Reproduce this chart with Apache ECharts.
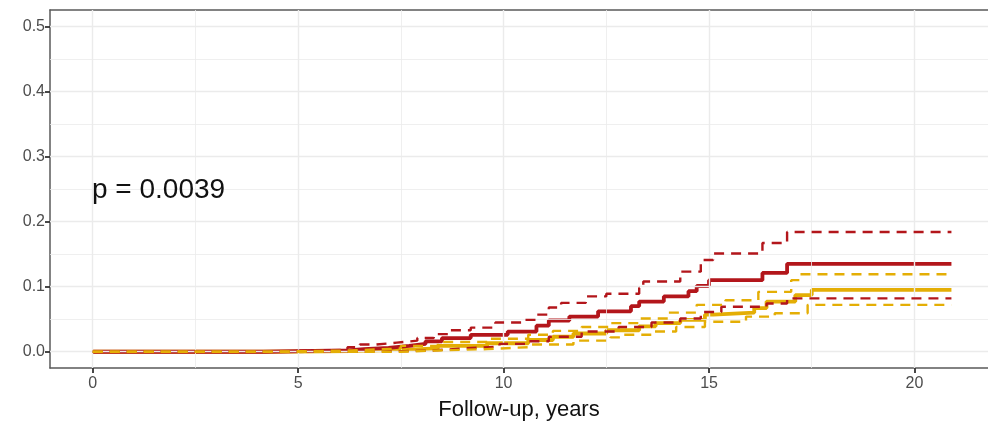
<!DOCTYPE html>
<html>
<head>
<meta charset="utf-8">
<style>
  html, body { margin: 0; padding: 0; background: #ffffff; }
  #chart { width: 988px; height: 428px; }
</style>
<script src="https://cdn.jsdelivr.net/npm/echarts@6/dist/echarts.min.js"></script>
</head>
<body>
<div id="chart"></div>
<script>
// Cumulative incidence by follow-up year: [year, value] step points (step-after)
const redEstimate = [[0,0],[4.15,0.002],[6.2,0.004],[6.6,0.006],[7.2,0.009],[7.7,0.012],[8.1,0.016],[8.5,0.021],[9.2,0.026],[10.1,0.031],[10.8,0.040],[11.1,0.048],[11.6,0.054],[12.3,0.062],[13.1,0.070],[13.3,0.077],[13.9,0.085],[14.5,0.093],[14.7,0.101],[15.0,0.110],[16.3,0.121],[16.9,0.135],[20.9,0.135]];
const redUpper = [[0,0],[4.15,0.003],[6.2,0.007],[6.5,0.011],[6.9,0.014],[7.4,0.017],[7.9,0.021],[8.3,0.027],[8.7,0.033],[9.2,0.037],[9.8,0.045],[10.5,0.049],[10.8,0.057],[11.1,0.068],[11.4,0.075],[12.0,0.085],[12.5,0.089],[13.3,0.098],[13.4,0.108],[14.3,0.123],[14.8,0.141],[15.1,0.151],[16.3,0.167],[16.9,0.184],[20.9,0.184]];
const redLower = [[0,0],[6.2,0.001],[7.6,0.002],[8.3,0.005],[9.0,0.008],[9.9,0.012],[10.6,0.016],[11.1,0.023],[11.9,0.031],[12.8,0.038],[13.6,0.045],[14.3,0.051],[14.8,0.061],[15.3,0.069],[16.4,0.074],[16.9,0.082],[20.9,0.082]];
const yellowEstimate = [[0,0],[4.2,0.001],[6.3,0.003],[7.5,0.005],[8.4,0.009],[9.6,0.013],[10.6,0.018],[11.2,0.023],[11.7,0.028],[12.5,0.033],[13.3,0.039],[13.7,0.044],[14.3,0.049],[14.9,0.057],[15.1,0.060],[16.1,0.067],[16.4,0.077],[17.1,0.087],[17.5,0.095],[20.9,0.095]];
const yellowUpper = [[0,0],[4.2,0.002],[6.3,0.005],[7.5,0.009],[8.4,0.015],[9.6,0.020],[10.6,0.026],[11.2,0.032],[11.9,0.038],[12.6,0.044],[13.3,0.051],[14.0,0.060],[14.7,0.072],[15.4,0.079],[16.2,0.092],[17.0,0.110],[17.2,0.119],[20.9,0.119]];
const yellowLower = [[0,0],[7.5,0.002],[8.4,0.004],[9.6,0.007],[10.6,0.011],[11.7,0.017],[12.6,0.022],[12.9,0.026],[13.6,0.031],[14.2,0.038],[14.9,0.046],[15.9,0.054],[16.6,0.059],[17.4,0.072],[20.9,0.072]];

// Axis ticks and grid positions
const xTicks = [0, 5, 10, 15, 20];
const xMinor = [2.5, 7.5, 12.5, 17.5];
const yTicks = [0, 0.1, 0.2, 0.3, 0.4, 0.5];
const yMinor = [0.05, 0.15, 0.25, 0.35, 0.45];
const xTitle = 'Follow-up, years';
const pText = 'p = 0.0039';

const RED = '#b3161b';
const YELLOW = '#e4ae05';
const FONT = '"Liberation Sans", Arial, sans-serif';
const BORDER = { show: true, onZero: false, lineStyle: { color: '#5a5a5a', width: 1.5 } };

// Estimates underneath, confidence bands drawn over them
function curve(name, data, color, dashed) {
  return {
    name: name,
    type: 'line',
    step: 'end',
    data: data,
    showSymbol: false,
    symbol: 'none',
    z: dashed ? 5 : 4,
    silent: true,
    lineStyle: {
      color: color,
      width: dashed ? 2.4 : 3.8,
      type: dashed ? [10, 7] : 'solid',
      cap: 'butt'
    }
  };
}

function gridLines(values, axisKey, width) {
  return values.map(v => ({ [axisKey]: v, lineStyle: { width: width } }));
}

const chart = echarts.init(document.getElementById('chart'), null, { renderer: 'canvas' });

chart.setOption({
  animation: false,
  backgroundColor: '#ffffff',
  grid: { left: 50, top: 10, width: 938, height: 358, containLabel: false },
  xAxis: [{
    type: 'value',
    position: 'bottom',
    min: -1.04, max: 21.79,
    axisLine: BORDER,
    splitLine: { show: false },
    axisTick: { show: true, customValues: xTicks, length: 5, lineStyle: { color: '#333333', width: 1.8 } },
    axisLabel: { customValues: xTicks, color: '#4d4d4d', fontSize: 16, fontFamily: FONT, margin: 8 },
    name: xTitle,
    nameLocation: 'middle',
    nameGap: 31,
    nameTextStyle: { color: '#111111', fontSize: 22, fontFamily: FONT }
  }, {
    // top edge of the panel frame
    type: 'value',
    position: 'top',
    min: -1.04, max: 21.79,
    axisLine: BORDER,
    axisTick: { show: false },
    axisLabel: { show: false },
    splitLine: { show: false }
  }],
  yAxis: {
    type: 'value',
    min: -0.025, max: 0.525,
    axisLine: BORDER,
    splitLine: { show: false },
    axisTick: { show: true, customValues: yTicks, length: 5, lineStyle: { color: '#333333', width: 1.8 } },
    axisLabel: { customValues: yTicks, color: '#4d4d4d', fontSize: 16, fontFamily: FONT, margin: 5,
      formatter: v => v.toFixed(1) }
  },
  graphic: [{
    type: 'text',
    left: 92, top: 176,
    z: 100,
    style: { text: pText, fontSize: 28, fontFamily: FONT, fill: '#111111' }
  }],
  series: [
    {
      type: 'line', data: [], silent: true, z: 1,
      markLine: {
        silent: true, symbol: 'none', animation: false,
        label: { show: false },
        lineStyle: { color: '#ebebeb', type: 'solid', width: 1.2 },
        data: [].concat(
          gridLines(xMinor, 'xAxis', 0.8),
          gridLines(yMinor, 'yAxis', 0.8),
          gridLines(xTicks, 'xAxis', 1.4),
          gridLines(yTicks, 'yAxis', 1.4)
        )
      }
    },
    curve('yellow', yellowEstimate, YELLOW, false),
    curve('red', redEstimate, RED, false),
    curve('red_upper', redUpper, RED, true),
    curve('red_lower', redLower, RED, true),
    curve('yellow_upper', yellowUpper, YELLOW, true),
    curve('yellow_lower', yellowLower, YELLOW, true)
  ]
});
</script>
</body>
</html>
